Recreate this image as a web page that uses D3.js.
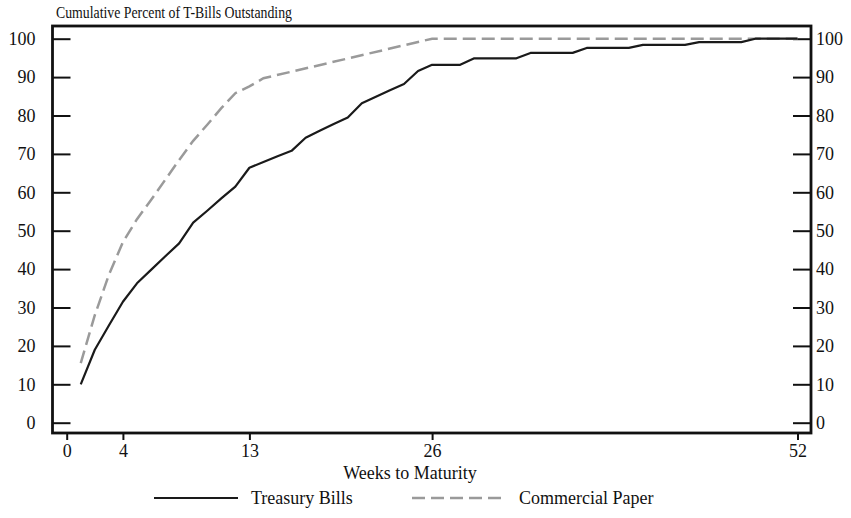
<!DOCTYPE html>
<html>
<head>
<meta charset="utf-8">
<script src="https://cdn.jsdelivr.net/npm/d3@7"></script>
<style>
body { margin: 0; background: #fff; }
svg text { font-family: "Liberation Serif", "DejaVu Serif", serif; fill: #111; }
</style>
</head>
<body>
<svg class="maturity"></svg>
<script>
// weeks to maturity and cumulative percent outstanding
var tbWeeks = [1,2,3,4,5,6,7,8,9,10,11,12,13,14,15,16,17,18,19,20,21,22,23,24,25,26,
	27,28,29,30,31,32,33,34,35,36,37,38,39,40,41,42,43,44,45,46,47,48,49,50,51,52];
var tbValues = [10,19,25.3,31.5,36.3,39.8,43.3,46.7,52.1,55.2,58.4,61.5,66.4,67.9,69.4,70.8,74.2,76,77.8,79.5,
	83.2,84.9,86.6,88.2,91.6,93.2,93.2,93.2,94.9,94.9,94.9,94.9,96.3,96.3,96.3,96.3,97.6,97.6,97.6,97.6,
	98.4,98.4,98.4,98.4,99.1,99.1,99.1,99.1,100,100,100,100];
var cpWeeks = [1,2,3,4,5,6,7,8,9,10,11,12,13,14,26,52];
var cpValues = [15.5,28,38.5,47,53,58,63.2,68.4,73.4,77.6,81.9,85.8,87.6,89.7,100,100];
var xTicks = [0,4,13,26,52];
var yTicks = [0,10,20,30,40,50,60,70,80,90,100];
var seriesNames = ["Treasury Bills","Commercial Paper"];

var chart = {
	initialize: function(){
		var self = this;
		self._render_view();
		return self;
	},
	_render_view: function(){
		var width = 851, height = 518;
		var left = 52.5, top = 26, right = 811, bottom = 433;
		var font = '"Liberation Serif", "DejaVu Serif", serif';

		var svg = d3.select('svg.maturity')
			.attr('width', width)
			.attr('height', height);

		var x = d3.scaleLinear().domain([0, 52]).range([66.7, 797.5]);
		var y = d3.scaleLinear().domain([0, 100]).range([422.7, 38.7]);

		svg.append('text')
			.attr('x', 56)
			.attr('y', 18)
			.attr('textLength', 236)
			.attr('lengthAdjust', 'spacingAndGlyphs')
			.style('font-size', '16px')
			.text('Cumulative Percent of T-Bills Outstanding');

		// left and right axes, ticks pointing into the frame
		var yLeft = svg.append('g')
			.attr('transform', 'translate(' + left + ',0)')
			.call(d3.axisLeft(y).tickValues(yTicks).tickSizeInner(-18).tickSizeOuter(0).tickPadding(17));
		var yRight = svg.append('g')
			.attr('transform', 'translate(' + right + ',0)')
			.call(d3.axisRight(y).tickValues(yTicks).tickSizeInner(-18).tickSizeOuter(0).tickPadding(5));
		var xAxis = svg.append('g')
			.attr('transform', 'translate(0,' + bottom + ')')
			.call(d3.axisBottom(x).tickValues(xTicks).tickSizeInner(7).tickSizeOuter(0).tickPadding(4));

		[yLeft, yRight, xAxis].forEach(function(g){
			g.select('.domain').remove();
			g.selectAll('line').attr('stroke', '#111').attr('stroke-width', 2);
			g.selectAll('text').style('font-size', '18px').style('font-family', font).attr('fill', '#111');
		});

		svg.append('rect')
			.attr('x', left)
			.attr('y', top)
			.attr('width', right - left)
			.attr('height', bottom - top)
			.attr('fill', 'none')
			.attr('stroke', '#111')
			.attr('stroke-width', 2.8);

		var line = d3.line()
			.x(function(d){ return x(d[0]); })
			.y(function(d){ return y(d[1]); });

		var cpData = cpWeeks.map(function(w, i){ return [w, cpValues[i]]; });
		var tbData = tbWeeks.map(function(w, i){ return [w, tbValues[i]]; });

		svg.append('path')
			.datum(cpData)
			.attr('d', line)
			.attr('fill', 'none')
			.attr('stroke', '#9a9a9a')
			.attr('stroke-width', 2.5)
			.attr('stroke-dasharray', '13,6');

		svg.append('path')
			.datum(tbData)
			.attr('d', line)
			.attr('fill', 'none')
			.attr('stroke', '#1a1a1a')
			.attr('stroke-width', 2.2)
			.attr('stroke-linejoin', 'round');

		svg.append('text')
			.attr('x', 410)
			.attr('y', 479)
			.attr('text-anchor', 'middle')
			.style('font-size', '18px')
			.text('Weeks to Maturity');

		// legend
		var legend = svg.append('g').attr('transform', 'translate(0,498)');
		var items = [
			{name: seriesNames[0], x1: 154, x2: 238, tx: 251, stroke: '#1a1a1a', dash: null, w: 2.2},
			{name: seriesNames[1], x1: 412, x2: 506, tx: 519, stroke: '#9a9a9a', dash: '13,6', w: 2.5}
		];
		var item = legend.selectAll('.legend-item')
			.data(items)
			.enter()
			.append('g')
			.attr('class', 'legend-item');
		item.append('line')
			.attr('x1', function(d){ return d.x1; })
			.attr('x2', function(d){ return d.x2; })
			.attr('y1', 0)
			.attr('y2', 0)
			.attr('stroke', function(d){ return d.stroke; })
			.attr('stroke-width', function(d){ return d.w; })
			.attr('stroke-dasharray', function(d){ return d.dash; });
		item.append('text')
			.attr('x', function(d){ return d.tx; })
			.attr('y', 6)
			.style('font-size', '18px')
			.text(function(d){ return d.name; });
	}
};

chart.initialize();
</script>
</body>
</html>
